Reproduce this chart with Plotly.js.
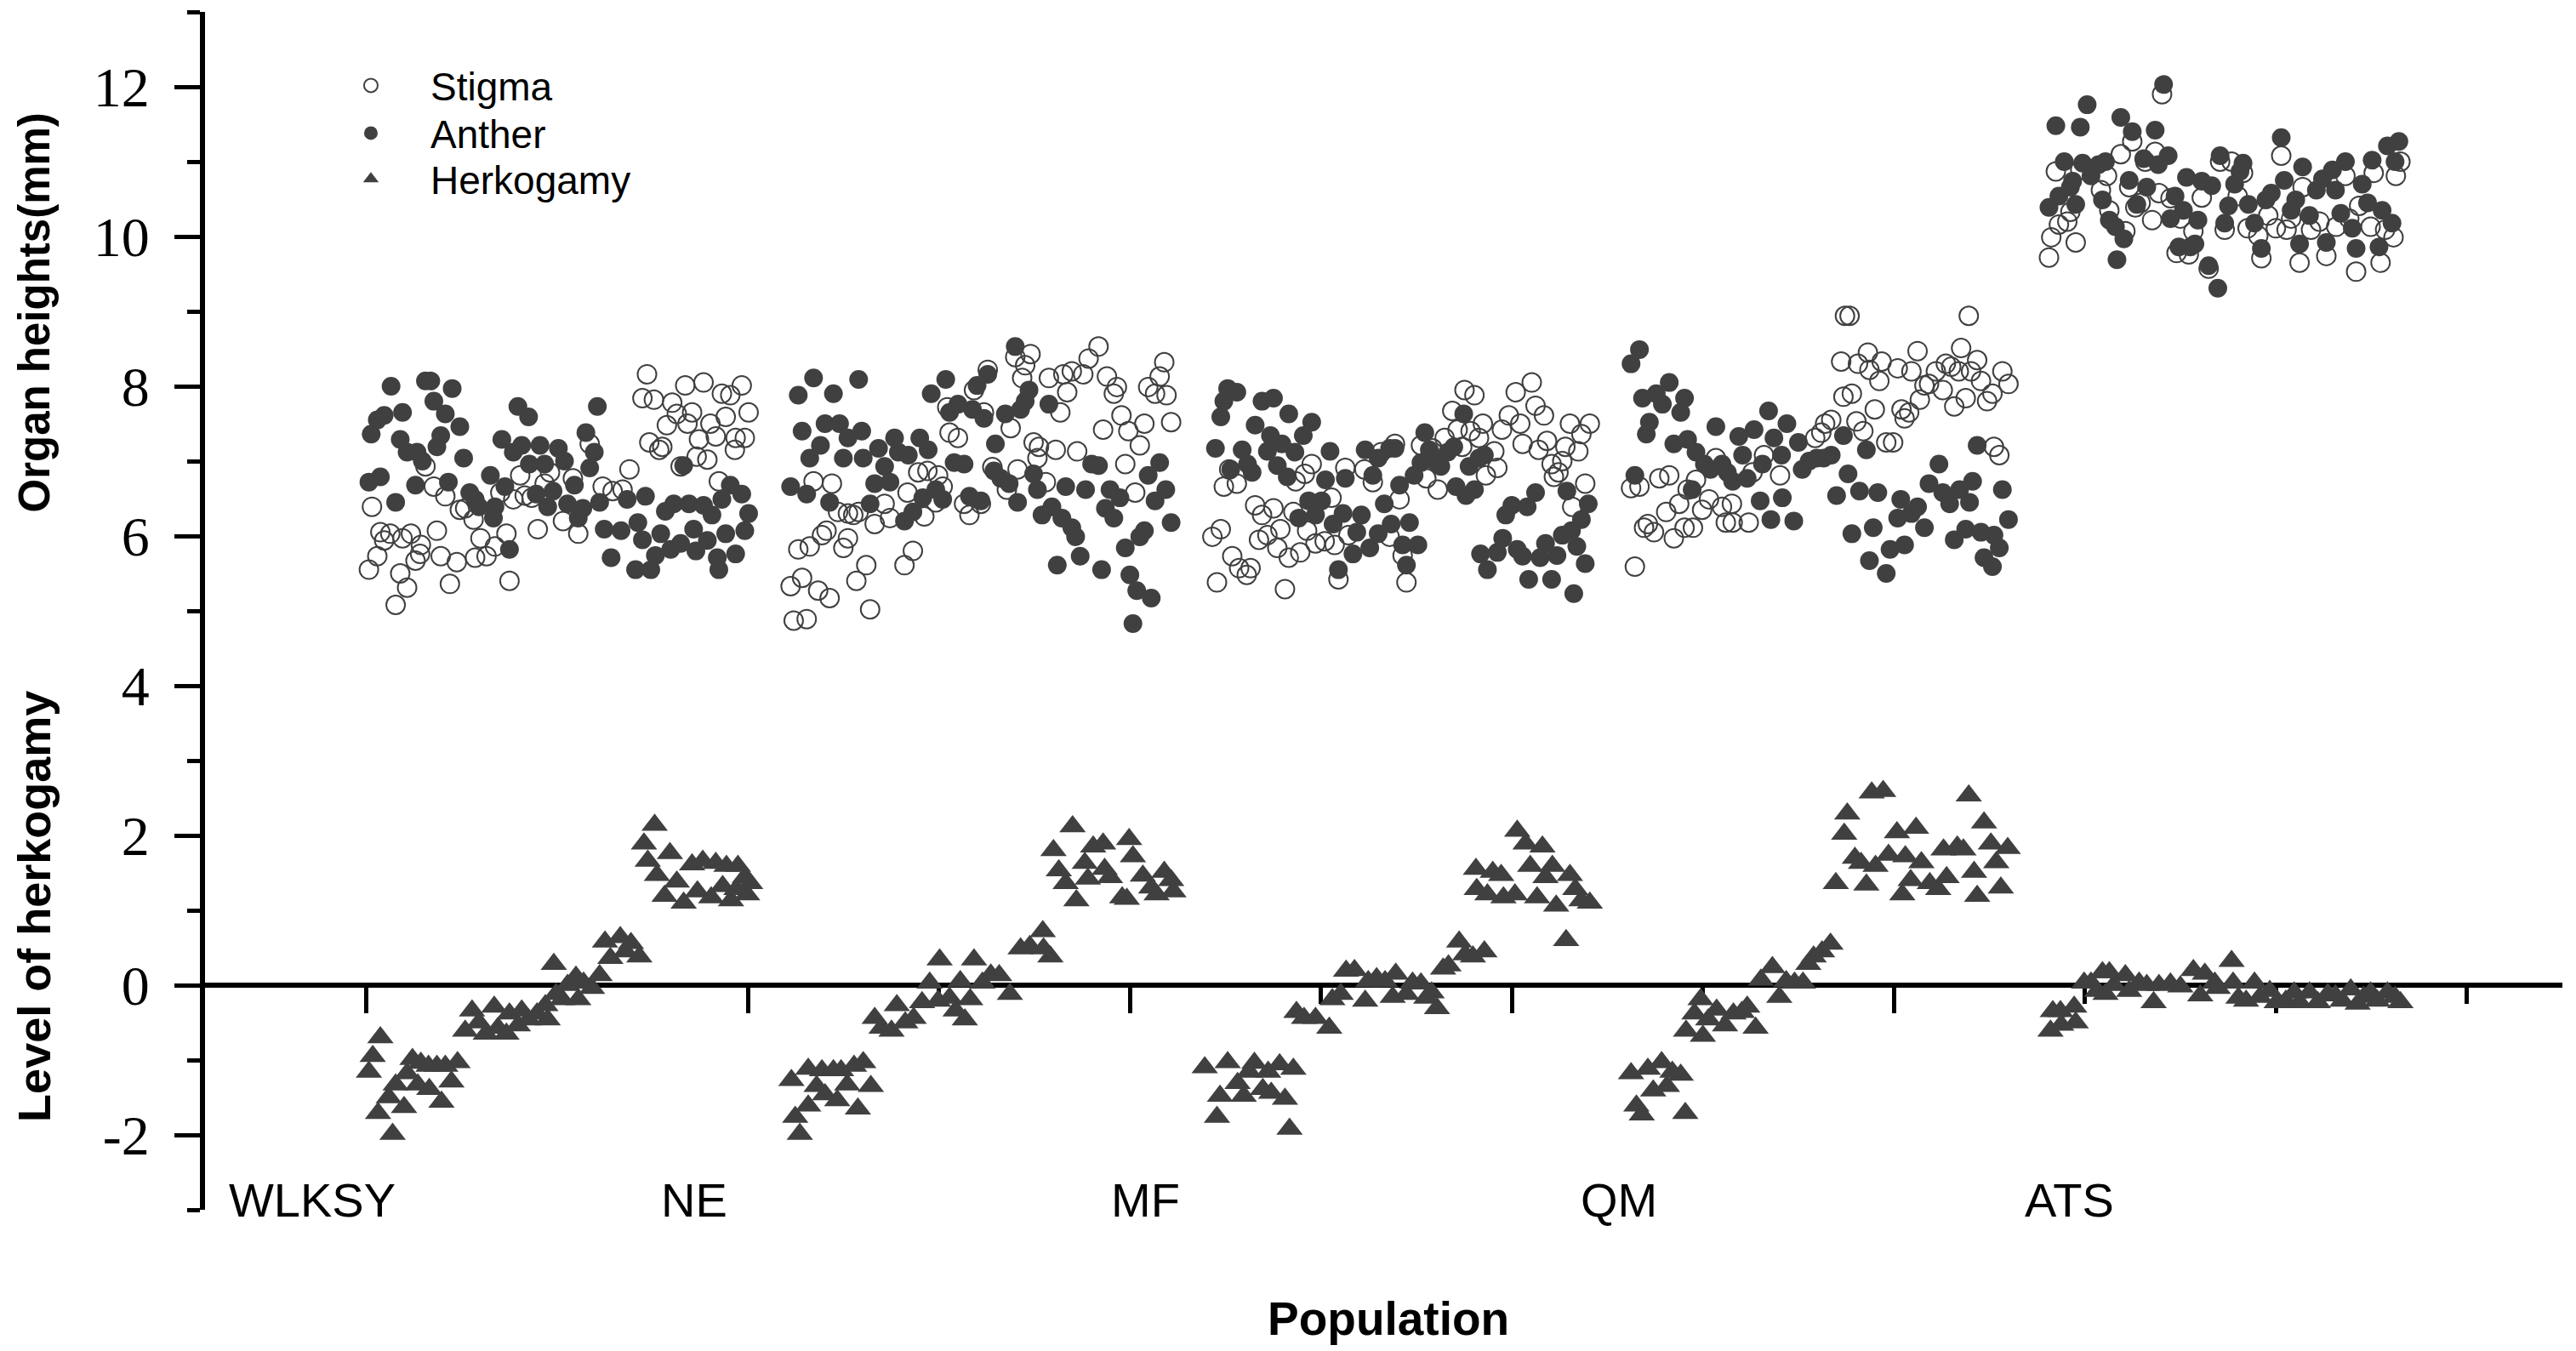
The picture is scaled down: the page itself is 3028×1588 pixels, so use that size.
<!DOCTYPE html>
<html>
<head>
<meta charset="utf-8">
<script src="https://cdn.plot.ly/plotly-3.0.1.min.js"></script>
<style>html,body{margin:0;padding:0;background:#fff;}#chart{width:3028px;height:1588px;}</style>
</head>
<body>
<div id="chart"></div>
<script>
// ---- Data ----
// x = observation index along the population axis
const populations = ['WLKSY', 'NE', 'MF', 'QM', 'ATS'];
const populationLabelX = [-7, 43, 102, 164, 223];

const seriesNames = ['Stigma', 'Anther', 'Herkogamy'];

// Stigma height (mm)
const stigmaX = [
  // WLKSY
  0.4,0.8,1.5,1.9,2.4,3.2,3.9,4.5,4.8,5.4,5.9,6.5,7.1,7.2,7.8,8.9,9.3,9.8,10.4,11.0,11.9,12.3,13.0,14.1,14.3,15.0,15.8,16.9,17.6,18.4,18.8,19.3,20.2,20.8,21.7,22.5,23.4,24.1,25.8,27.1,27.8,29.3,31.0,32.3,33.6,34.5,36.2,36.8,37.1,37.7,38.4,38.8,39.4,40.1,40.7,41.2,41.8,42.1,42.7,43.3,43.6,44.2,44.7,45.1,45.8,46.2,46.6,47.1,47.7,48.3,48.4,49.2,49.6,50.1,
  // NE
  55.6,56.0,56.6,57.1,57.7,58.1,58.6,59.2,59.7,60.3,60.7,61.0,61.8,62.5,63.1,63.1,63.8,64.2,64.5,65.5,66.0,66.6,67.9,68.6,70.5,70.9,71.6,72.3,73.1,73.5,74.6,74.9,75.5,76.1,76.4,77.5,78.3,79.0,79.6,80.5,80.9,81.4,82.0,83.9,84.4,85.0,85.3,85.9,86.3,87.0,87.4,88.1,87.9,89.0,89.4,90.3,90.9,91.3,91.8,92.4,93.1,93.9,94.6,95.9,96.5,97.0,97.9,98.3,98.9,99.4,99.8,100.7,101.3,101.9,102.4,103.3,103.9,104.5,104.8,105.4,
  // MF
  110.8,111.4,111.9,112.3,113.0,113.4,114.0,114.3,115.3,115.8,116.4,116.9,117.3,118.0,118.8,119.3,119.7,120.3,120.8,121.4,121.7,122.3,122.9,123.2,123.8,124.3,125.5,126.4,126.8,127.3,128.2,128.6,130.7,131.8,132.9,134.0,134.7,135.3,135.7,136.2,138.1,138.8,139.6,140.3,141.2,142.2,142.9,143.5,143.8,144.6,145.1,145.7,146.2,146.6,147.7,148.1,148.7,149.6,150.5,151.1,151.4,152.6,153.1,153.5,154.2,154.6,155.2,155.5,156.1,156.6,157.0,157.6,157.9,158.7,159.1,159.6,160.2,
  // QM
  165.6,166.1,166.7,167.3,167.8,168.6,169.3,170.2,170.6,171.2,171.9,172.6,173.0,173.7,174.1,174.9,175.8,176.7,177.5,178.0,178.8,178.9,181.0,181.5,183.0,185.1,189.7,190.5,191.0,191.8,193.1,193.6,194.2,193.4,194.5,195.1,195.3,196.0,196.6,196.8,197.5,198.1,198.4,199.0,199.9,200.5,201.0,201.4,202.0,202.3,203.1,203.4,204.0,204.6,205.5,206.4,206.8,207.5,207.9,208.5,208.8,209.4,209.8,210.1,210.9,211.4,212.2,212.9,213.1,213.8,214.2,215.0,
  // ATS
  220.3,220.6,221.2,221.6,222.7,223.1,223.8,224.4,227.1,227.9,228.2,229.7,230.3,230.8,231.2,231.6,232.3,232.9,233.8,234.2,234.7,235.1,236.2,237.0,237.5,238.6,239.2,240.3,241.2,242.7,243.3,244.2,245.0,245.7,246.3,247.7,248.1,249.0,250.0,250.7,251.4,252.0,253.1,253.5,254.6,255.7,256.6,257.9,259.1,259.6,260.5,260.9,262.4,262.8,263.7,264.3,265.4,265.7,266.3
];
const stigmaY = [
  // WLKSY
  5.55,6.39,5.73,6.05,5.94,6.03,5.08,5.50,5.97,5.31,6.03,5.67,5.76,5.88,6.93,6.66,6.07,5.73,6.53,5.36,5.65,6.35,6.37,6.22,5.71,5.97,5.73,5.86,6.58,6.03,5.40,6.49,6.81,6.54,6.51,6.09,6.70,6.85,6.20,6.77,6.03,7.23,6.66,6.60,6.62,6.89,7.84,8.16,7.25,7.82,7.15,7.19,7.48,7.78,7.63,6.93,8.01,7.50,7.65,7.06,7.29,8.05,7.02,7.50,7.33,6.73,7.90,7.59,7.88,7.15,7.31,8.01,7.31,7.65,
  // NE
  5.33,4.87,5.82,5.44,4.89,5.86,6.73,5.27,6.01,6.07,5.17,6.70,6.32,5.84,5.97,6.30,6.28,5.40,6.32,5.61,5.02,6.16,6.43,6.24,5.61,6.58,5.80,6.85,6.26,6.87,6.45,6.81,6.66,7.72,7.38,7.31,6.43,6.28,7.95,6.43,7.65,8.22,6.92,6.62,7.44,8.39,6.89,8.11,8.28,8.43,7.25,7.19,7.04,6.72,8.11,7.15,7.65,8.16,7.92,8.20,7.13,8.16,8.37,8.53,7.42,8.13,7.90,7.99,7.61,6.96,7.40,6.58,7.21,7.50,7.99,7.90,8.13,8.32,7.88,7.52,
  // MF
  5.99,5.38,6.09,6.66,6.89,5.73,6.70,5.57,5.48,5.57,6.41,5.95,6.28,6.01,6.37,5.84,6.09,5.29,5.71,6.32,6.73,5.78,6.83,6.07,6.96,5.90,5.93,6.51,5.88,5.42,6.91,6.01,6.89,6.72,7.12,5.99,7.23,6.49,5.74,5.38,7.21,6.77,7.17,6.62,7.31,7.67,7.42,7.19,7.95,7.40,7.88,7.31,7.50,6.81,7.13,6.91,7.42,7.61,7.92,7.50,7.23,8.05,7.74,7.15,7.61,7.27,6.96,6.79,6.85,7.00,7.19,7.50,6.39,7.13,7.36,6.70,7.50,
  // QM
  6.64,5.59,6.66,6.11,6.16,6.05,6.77,6.32,6.81,5.97,6.43,6.11,6.62,6.11,6.75,6.35,6.49,7.04,6.39,6.18,6.43,6.18,6.18,6.85,7.08,6.81,7.31,7.38,7.50,7.55,8.33,8.94,8.94,7.86,7.90,7.53,8.30,7.40,8.45,8.22,7.69,8.07,8.33,7.25,7.25,8.24,7.69,7.57,7.65,8.20,8.47,7.82,8.01,8.03,8.20,7.95,8.30,8.26,7.73,8.20,8.51,7.84,8.94,8.20,8.35,8.07,7.80,7.90,7.19,7.08,8.20,8.03,
  // ATS
  9.72,9.99,10.87,10.16,10.20,10.33,9.92,10.89,10.62,10.81,10.35,11.10,10.07,10.66,11.27,10.39,10.45,11.00,10.22,11.13,10.58,11.90,10.51,9.78,10.24,9.76,10.07,10.52,9.57,11.00,10.09,11.00,10.54,10.85,10.11,10.01,9.71,10.28,10.11,11.08,10.09,10.24,9.65,10.66,10.09,10.20,9.74,10.13,10.81,10.24,9.53,10.41,10.13,10.85,9.65,10.09,9.99,10.81,11.00
];

// Anther height (mm)
const antherX = [
  // WLKSY
  0.4,0.7,1.5,1.9,2.4,3.3,3.9,4.5,4.8,5.4,6.5,6.7,7.4,7.8,8.5,8.9,9.3,9.8,10.4,10.8,11.3,12.3,12.8,13.6,14.3,14.8,16.3,16.7,16.9,17.8,18.2,18.8,19.3,19.9,20.4,21.3,21.4,22.3,22.8,23.4,23.8,24.5,25.2,26.0,26.4,27.3,27.8,28.4,28.8,29.3,29.9,30.3,30.6,31.2,32.1,33.4,34.2,35.3,35.6,36.2,36.6,37.3,37.9,38.6,39.2,39.9,40.3,41.2,41.6,42.3,42.9,43.2,44.2,44.7,45.3,46.0,46.2,46.6,47.1,47.7,48.4,49.2,49.6,50.1,
  // NE
  55.6,56.6,57.1,57.7,58.1,58.6,59.5,60.1,60.7,61.2,62.0,62.5,63.1,64.5,64.9,65.1,66.0,66.6,67.1,67.9,68.6,69.2,69.7,70.5,71.0,71.6,72.5,72.9,73.6,74.0,74.6,75.5,75.9,76.4,77.0,77.5,78.3,79.0,79.4,80.0,80.5,80.9,81.4,82.2,82.4,83.1,83.7,84.2,85.0,85.3,85.7,86.3,86.8,87.4,87.9,88.5,89.4,89.8,90.5,91.1,91.6,92.4,92.9,93.5,94.2,95.0,95.9,96.3,96.8,97.4,97.9,98.7,99.4,100.0,100.4,100.9,101.3,101.9,102.4,102.8,103.3,103.9,104.7,105.4,
  // MF
  111.2,111.9,112.3,112.8,113.2,114.0,114.7,115.4,116.0,116.4,117.3,118.0,118.4,118.8,119.3,119.9,120.6,120.8,121.6,122.1,122.7,123.4,123.8,124.3,125.1,125.6,126.2,126.6,127.3,127.9,128.2,129.2,129.7,130.3,130.8,131.4,131.8,132.5,132.5,133.3,134.0,134.2,134.7,135.3,135.7,136.2,136.6,137.7,137.2,138.1,138.6,139.2,139.9,140.7,141.6,142.4,142.7,143.7,144.0,144.4,145.1,145.7,146.4,145.9,146.8,148.1,148.8,149.2,150.0,150.7,151.4,152.0,152.2,153.1,153.7,154.4,155.2,155.9,156.6,157.2,157.8,158.1,158.5,159.1,159.6,160.0,
  // QM
  165.6,166.1,166.7,167.1,167.6,168.0,168.9,169.7,170.6,171.2,172.1,172.6,173.0,173.6,174.1,175.2,176.0,176.7,177.5,178.2,178.9,179.7,180.2,180.8,181.7,182.5,182.8,183.6,183.9,184.3,185.3,185.4,186.0,186.9,187.5,188.0,188.9,189.9,190.8,191.8,192.5,193.4,194.0,194.5,195.5,196.4,196.8,197.3,197.9,199.0,199.5,200.5,200.9,201.4,202.3,203.1,204.0,204.6,205.9,206.4,207.3,207.9,208.6,209.4,209.9,210.3,210.9,211.4,211.8,212.9,213.1,213.8,214.2,215.0,
  // ATS
  220.3,221.2,221.6,222.3,223.1,223.4,223.8,224.4,224.7,225.3,225.8,226.8,227.3,227.7,228.2,229.0,229.2,229.7,230.1,230.8,231.2,231.8,232.7,233.1,234.2,234.6,235.3,235.9,236.2,236.8,237.3,237.9,238.3,238.8,239.4,239.8,240.3,241.2,241.6,242.4,242.7,243.3,243.8,244.6,245.3,245.7,246.4,247.2,248.1,248.7,249.4,250.7,251.1,252.0,252.6,253.1,253.5,254.4,255.3,256.1,256.6,257.4,257.8,258.5,259.1,260.0,260.5,261.3,262.0,262.6,263.5,263.9,264.6,265.2,265.6,266.1
];
const antherY = [
  // WLKSY
  6.72,7.36,7.55,6.79,7.61,8.00,6.45,7.29,7.65,7.12,6.68,7.12,7.00,8.07,8.07,7.80,7.19,7.34,7.63,6.72,7.97,7.46,7.04,6.58,6.49,6.39,6.81,6.24,6.39,7.29,6.66,5.82,7.12,7.73,7.21,7.59,6.96,6.56,7.21,6.96,6.39,6.60,7.17,7.00,6.43,6.68,6.24,6.37,7.38,6.91,7.12,7.73,6.45,6.09,5.71,6.07,6.49,5.55,6.18,5.95,6.53,5.55,5.74,6.03,6.33,5.82,6.43,5.90,6.94,6.43,6.09,5.80,6.41,5.94,6.28,5.71,5.55,6.49,6.03,6.68,5.76,6.56,6.07,6.30,
  // NE
  6.66,7.88,7.40,6.56,7.04,8.11,7.21,7.50,6.45,7.90,7.50,7.04,7.31,8.09,7.40,7.04,6.43,6.70,7.17,6.93,6.72,7.31,7.12,6.20,7.08,6.32,7.31,6.51,7.15,7.90,6.62,6.49,8.09,7.65,6.98,7.76,6.96,6.53,7.69,8.01,6.47,7.57,8.16,6.87,7.23,6.77,7.63,6.70,8.53,6.45,7.69,7.80,7.95,6.83,6.62,6.28,7.76,6.39,5.61,6.24,6.66,6.11,5.99,5.73,6.62,6.96,6.94,5.55,6.37,6.62,6.24,6.51,5.84,5.48,4.83,5.27,5.99,6.07,6.81,5.17,6.47,6.98,6.62,6.18,
  // MF
  7.17,7.59,7.80,7.97,6.89,7.92,7.15,6.96,6.85,7.48,7.80,7.13,7.34,7.84,6.94,7.23,6.79,7.63,7.12,6.24,7.34,6.47,7.52,6.28,6.47,6.75,7.13,6.16,5.55,6.30,6.77,5.76,6.05,6.28,7.15,5.84,6.81,6.03,7.04,6.43,7.17,6.16,7.17,6.68,5.88,5.61,6.18,5.88,6.81,6.98,7.38,7.15,7.00,6.93,7.12,7.19,6.66,7.63,6.54,6.93,6.62,7.04,7.08,5.76,5.55,5.78,5.97,6.28,6.41,5.82,5.73,6.39,5.42,6.58,5.71,5.90,5.42,5.74,6.01,6.60,6.07,5.23,5.86,6.22,5.63,6.43,
  // QM
  8.30,6.81,8.49,7.84,7.36,7.52,7.90,7.76,8.05,7.23,7.65,7.84,7.29,6.62,7.12,6.96,6.89,7.46,6.96,6.85,6.73,7.33,7.08,6.77,7.42,6.47,6.96,7.67,6.22,7.31,7.08,6.51,7.50,6.20,7.25,6.89,7.00,7.04,7.04,7.08,6.54,7.34,6.83,6.03,6.60,7.15,5.67,6.11,6.58,5.50,5.82,6.24,6.49,5.88,6.30,6.39,6.11,6.70,6.96,6.58,6.43,5.95,6.62,6.09,6.45,6.73,7.21,6.05,5.71,5.59,6.01,5.84,6.62,6.22,
  // ATS
  10.39,11.48,10.54,11.00,10.66,10.74,10.43,11.46,10.98,11.76,10.81,10.96,10.49,11.00,10.22,10.13,9.69,11.59,9.97,10.75,11.40,10.43,11.04,10.66,11.42,10.96,12.03,11.08,10.24,10.54,9.86,10.35,10.79,9.86,9.90,10.22,10.74,9.61,10.68,9.31,11.08,10.18,10.41,10.70,10.87,10.98,10.43,10.18,9.84,10.49,10.58,11.32,10.75,10.35,10.49,9.90,10.93,10.28,10.62,10.77,9.92,10.89,10.62,10.31,11.00,10.11,9.84,10.70,10.45,11.02,9.86,10.35,11.21,10.18,11.00,11.27
];

// Level of herkogamy (mm)
const herkX = [
  // WLKSY
  0.4,0.9,1.6,1.9,3.0,3.5,3.9,5.0,5.4,6.1,6.8,7.2,8.2,8.3,9.3,9.9,10.4,11.2,12.0,13.0,13.9,14.8,15.7,16.8,17.3,18.4,18.8,19.9,20.4,21.3,22.4,23.5,23.8,24.6,24.9,25.7,26.4,27.5,27.8,28.5,29.6,30.6,31.3,32.0,33.3,34.0,34.7,35.8,36.4,36.9,37.8,38.1,39.1,39.8,40.7,41.6,42.7,43.4,44.1,45.2,45.8,46.7,47.2,47.8,48.5,48.7,49.6,49.9,50.3,
  // NE
  55.7,56.2,56.8,57.9,57.9,59.0,59.7,60.1,61.2,61.7,62.2,63.0,63.9,64.4,65.1,66.1,66.6,67.5,68.8,69.5,70.6,71.7,72.8,73.8,74.9,75.1,76.4,77.2,77.8,78.4,79.1,79.6,80.7,81.8,82.9,84.3,85.7,86.9,88.6,88.7,89.6,90.0,90.7,91.6,92.5,93.0,94.1,94.5,95.2,96.5,96.7,97.4,99.0,99.6,99.9,100.4,101.7,102.8,103.5,104.5,105.4,105.7,
  // MF
  109.8,111.4,111.8,112.8,114.1,114.9,115.6,116.3,117.4,118.1,118.5,119.6,120.3,120.9,121.4,121.8,122.8,124.3,126.1,126.5,127.6,128.3,129.4,130.8,131.2,132.3,133.4,134.4,134.8,136.2,137.0,138.1,138.8,139.5,140.2,141.0,141.7,143.1,143.9,144.9,145.3,145.4,146.4,146.8,147.5,148.6,148.9,150.4,150.7,151.8,152.4,153.3,154.0,154.4,155.3,155.8,157.1,157.6,158.3,159.1,160.2,
  // QM
  165.6,166.3,167.0,167.8,168.5,169.6,170.3,171.0,172.1,172.7,172.8,173.9,174.7,175.0,175.7,176.8,177.9,179.0,180.1,180.8,181.9,182.6,184.1,185.0,185.9,187.0,188.1,188.8,189.5,190.6,191.7,192.4,193.5,193.9,194.9,195.7,196.4,197.1,197.6,198.6,199.3,200.4,201.1,201.5,202.2,202.9,203.6,204.7,205.8,206.5,206.9,208.3,209.1,209.8,210.5,210.9,211.8,212.7,213.4,214.0,214.9,
  // ATS
  220.5,220.8,221.8,221.9,223.6,223.8,224.9,225.8,226.6,227.3,227.7,228.2,228.8,230.3,230.8,232.1,233.1,234.0,234.7,236.2,237.5,239.2,240.1,240.7,242.0,242.4,244.2,244.4,245.1,246.1,247.2,247.9,249.2,250.1,251.3,252.4,253.1,254.4,255.5,256.8,257.8,258.7,259.8,260.7,261.5,262.4,263.3,264.6,265.6,266.3
];
const herkY = [
  // WLKSY
  -1.16,-0.95,-1.71,-0.70,-1.50,-1.99,-1.33,-1.63,-1.18,-0.99,-1.33,-1.04,-1.08,-1.39,-1.08,-1.56,-1.08,-1.29,-1.03,-0.61,-0.34,-0.50,-0.65,-0.29,-0.57,-0.65,-0.38,-0.54,-0.34,-0.46,-0.38,-0.27,-0.46,0.28,-0.12,-0.19,0.00,0.11,-0.19,0.03,-0.04,0.13,0.58,0.36,0.64,0.45,0.56,0.38,1.89,1.66,2.14,1.47,1.19,1.76,1.38,1.10,1.61,1.25,1.66,1.17,1.63,1.32,1.59,1.13,1.28,1.59,1.44,1.21,1.36,
  // NE
  -1.27,-1.76,-1.99,-1.12,-1.61,-1.35,-1.14,-1.46,-1.14,-1.54,-1.14,-1.33,-1.08,-1.65,-1.03,-1.35,-0.44,-0.57,-0.61,-0.27,-0.50,-0.44,-0.23,0.03,-0.21,0.34,-0.17,-0.34,0.05,-0.46,-0.19,0.34,0.03,0.14,0.13,-0.12,0.49,0.52,0.72,0.49,0.38,1.80,1.53,1.36,2.12,1.13,1.63,1.42,1.85,1.89,1.55,1.44,1.17,1.15,1.95,1.72,1.46,1.30,1.21,1.51,1.40,1.25,
  // MF
  -1.10,-1.76,-1.48,-1.03,-1.31,-1.48,-1.16,-1.04,-1.39,-1.16,-1.44,-1.06,-1.52,-1.92,-1.12,-0.36,-0.44,-0.44,-0.57,-0.19,-0.12,0.19,0.20,-0.21,0.05,0.09,0.05,-0.16,0.15,-0.12,0.03,0.02,-0.17,-0.10,-0.31,0.22,0.26,0.58,0.41,0.38,1.55,1.28,0.45,1.21,1.51,1.47,1.17,1.21,2.06,1.89,1.59,1.17,1.85,1.44,1.59,1.06,0.60,1.47,1.28,1.13,1.10,
  // QM
  -1.18,-1.61,-1.73,-1.12,-1.41,-1.03,-1.35,-1.16,-1.20,-1.71,-0.61,-0.38,-0.19,-0.68,-0.46,-0.33,-0.54,-0.38,-0.36,-0.29,-0.57,0.07,0.24,-0.16,0.05,0.03,0.03,0.28,0.38,0.45,0.55,1.36,2.02,2.29,1.70,1.63,1.34,2.57,1.59,2.59,1.74,2.04,1.21,1.72,1.40,2.10,1.64,1.36,1.28,1.81,1.44,1.85,1.81,2.53,1.51,1.19,2.17,1.89,1.64,1.30,1.83,
  // ATS
  -0.61,-0.35,-0.35,-0.53,-0.29,-0.50,0.03,0.03,-0.08,0.17,-0.12,0.17,0.00,0.13,-0.08,0.03,0.00,-0.23,0.00,0.02,-0.02,0.20,-0.14,0.15,0.03,-0.04,0.32,0.03,-0.17,-0.21,0.03,-0.16,-0.08,-0.23,-0.21,-0.10,-0.23,-0.10,-0.23,-0.12,-0.14,-0.21,-0.06,-0.25,-0.16,-0.10,-0.21,-0.10,-0.16,-0.23
];

const yTickVals = [-2, 0, 2, 4, 6, 8, 10, 12];
const yTickText = ['-2', '0', '2', '4', '6', '8', '10', '12'];
const xTickVals = [0, 50, 100, 150, 200, 250];

// ---- Styling ----
const markColor = '#404040';
const sansFont = 'Liberation Sans, Arial, sans-serif';
const serifFont = 'Liberation Serif, Times New Roman, serif';

const traces = [
  {
    type: 'scatter', mode: 'markers', name: seriesNames[0], legend: 'legend',
    x: stigmaX, y: stigmaY,
    marker: {symbol: 'circle-open', size: 22, color: markColor, line: {width: 2, color: markColor}}
  },
  {
    type: 'scatter', mode: 'markers', name: seriesNames[1], legend: 'legend2',
    x: antherX, y: antherY,
    marker: {symbol: 'circle', size: 22, color: markColor, line: {width: 0}}
  },
  {
    type: 'scatter', mode: 'markers', name: seriesNames[2], legend: 'legend3',
    x: herkX, y: herkY,
    marker: {symbol: 'triangle-up', size: 27, color: markColor, line: {width: 0}}
  }
];

const annotations = populations.map((p, i) => ({
  text: p, x: populationLabelX[i], xref: 'x', y: 0.0085, yref: 'paper',
  xanchor: 'center', yanchor: 'middle', showarrow: false,
  font: {family: sansFont, size: 56, color: '#000'}
}));
annotations.push(
  {text: '<b>Population</b>', x: 0.502, y: -0.091, xref: 'paper', yref: 'paper',
   xanchor: 'center', yanchor: 'middle', showarrow: false,
   font: {family: sansFont, size: 55, color: '#000'}},
  {text: '<b>Organ heights(mm)</b>', x: -0.0725, y: 0.749, xref: 'paper', yref: 'paper',
   textangle: -90, xanchor: 'center', yanchor: 'middle', showarrow: false,
   font: {family: sansFont, size: 51, color: '#000'}},
  {text: '<b>Level of herkogamy</b>', x: -0.0725, y: 0.253, xref: 'paper', yref: 'paper',
   textangle: -90, xanchor: 'center', yanchor: 'middle', showarrow: false,
   font: {family: sansFont, size: 54, color: '#000'}}
);

function legendAt(yTop) {
  return {
    x: 0.0451, y: yTop, xanchor: 'left', yanchor: 'top',
    bgcolor: 'rgba(0,0,0,0)', borderwidth: 0,
    itemwidth: 130, itemsizing: 'trace',
    font: {family: sansFont, size: 46, color: '#000'}
  };
}

const layout = {
  width: 3028, height: 1588,
  margin: {l: 241, r: 16, t: 14, b: 166, pad: 0},
  paper_bgcolor: '#fff', plot_bgcolor: '#fff',
  showlegend: true,
  legend: legendAt(0.9645),
  legend2: legendAt(0.9247),
  legend3: legendAt(0.8864),
  xaxis: {
    range: [-21.05, 287.5],
    anchor: 'free', position: 0.1875,
    showline: true, linecolor: '#000', linewidth: 6,
    ticks: 'outside', tickvals: xTickVals, ticklen: 30, tickwidth: 5, tickcolor: '#000',
    minor: {dtick: 25, tick0: 0, ticks: 'outside', ticklen: 19, tickwidth: 5, tickcolor: '#000'},
    showticklabels: false, showgrid: false, zeroline: false,
    layer: 'below traces'
  },
  yaxis: {
    range: [-3, 13],
    showline: true, linecolor: '#000', linewidth: 6,
    ticks: 'outside', tickvals: yTickVals, ticktext: yTickText,
    ticklen: 30, tickwidth: 5, tickcolor: '#000',
    minor: {dtick: 1, tick0: 0, ticks: 'outside', ticklen: 15, tickwidth: 5, tickcolor: '#000'},
    ticklabelstandoff: 16,
    tickfont: {family: serifFont, size: 66, color: '#000'},
    showgrid: false, zeroline: false
  },
  annotations: annotations
};

Plotly.newPlot('chart', traces, layout, {displayModeBar: false, staticPlot: true});
</script>
</body>
</html>
